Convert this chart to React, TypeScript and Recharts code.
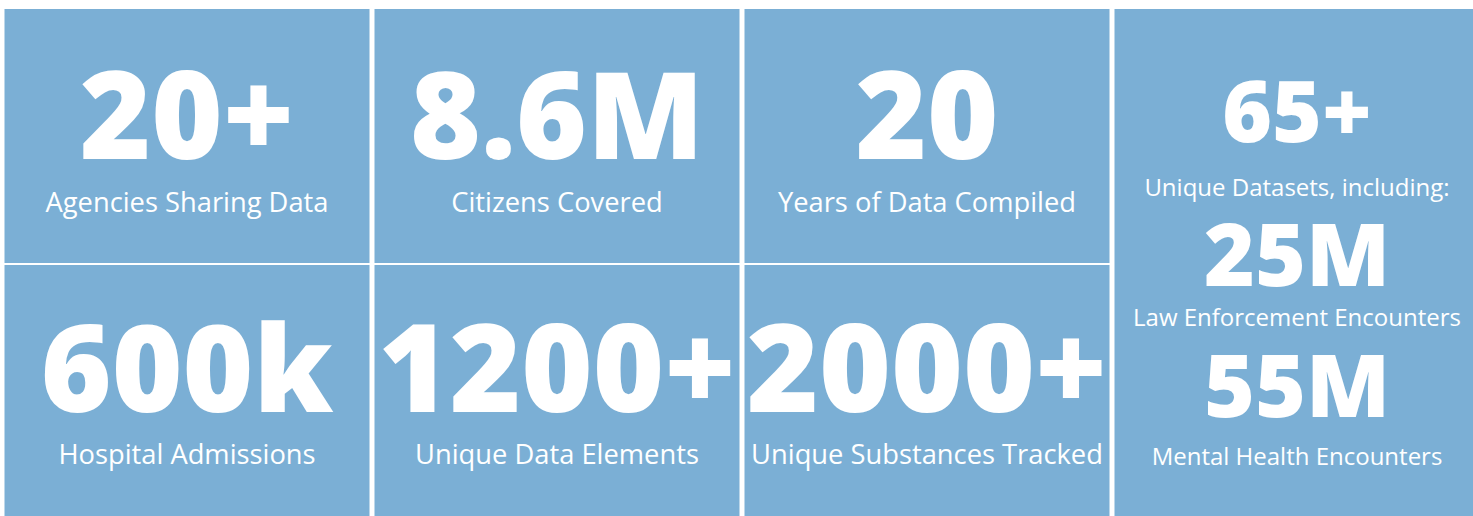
import React from 'react';
import { BarChart, Bar, XAxis, YAxis } from 'recharts';

// one entry per tile column
const columns = ['Agencies', 'Citizens', 'Years', 'Datasets'];
const upperShare = [1, 1, 1, 0];
const lowerShare = [1, 1, 1, 0];
const fullShare = [0, 0, 0, 2];

const upperFigures = ['20+', '8.6M', '20', ''];
const upperCaptions = ['Agencies Sharing Data', 'Citizens Covered', 'Years of Data Compiled', ''];
const lowerFigures = ['600k', '1200+', '2000+', ''];
const lowerCaptions = ['Hospital Admissions', 'Unique Data Elements', 'Unique Substances Tracked', ''];
const sideFigures = ['65+', '25M', '55M'];
const sideCaptions = ['Unique Datasets, including:', 'Law Enforcement Encounters', 'Mental Health Encounters'];

const chartData = columns.map((col, i) => ({
  col,
  lower: lowerShare[i],
  upper: upperShare[i],
  full: fullShare[i],
}));

const TILE = '#7bafd5';
const FONT = '"Open Sans", "Noto Sans", sans-serif';

const figureStyle = (size: number) => ({
  fill: '#ffffff',
  fontFamily: FONT,
  fontWeight: 800,
  fontSize: size,
});
const captionStyle = (size: number) => ({
  fill: '#ffffff',
  fontFamily: FONT,
  fontWeight: 400,
  fontSize: size,
});

const makeTile = (figures: string[], captions: string[], figSize: number[], figY: number, capY: number) =>
  (props: any) => {
    const { x, y, width, height, index } = props;
    if (!height || height <= 0) return null;
    const cx = x + width / 2;
    return (
      <g>
        <rect x={x} y={y + 1} width={width} height={height - 2} fill={TILE} />
        <text x={cx} y={y + figY} textAnchor="middle" style={figureStyle(figSize[index])}>
          {figures[index]}
        </text>
        <text x={cx} y={y + capY} textAnchor="middle" style={captionStyle(27.3)}>
          {captions[index]}
        </text>
      </g>
    );
  };

const UpperTile = makeTile(upperFigures, upperCaptions, [122, 121, 122, 0], 151, 204);
const LowerTile = makeTile(lowerFigures, lowerCaptions, [121, 122, 123, 0], 148, 200);

const SideTile = (props: any) => {
  const { x, y, width, height } = props;
  if (!height || height <= 0) return null;
  const cx = x + width / 2;
  const figY = [134, 278, 409];
  const capY = [188, 318, 457];
  const figSize = [85, 87, 87];
  const capSize = [24, 24, 24];
  return (
    <g>
      <rect x={x} y={y + 1} width={width} height={height - 2} fill={TILE} />
      {sideFigures.map((f, i) => (
        <text key={'f' + i} x={cx} y={y + figY[i]} textAnchor="middle" style={figureStyle(figSize[i])}>
          {f}
        </text>
      ))}
      {sideCaptions.map((c, i) => (
        <text key={'c' + i} x={cx} y={y + capY[i]} textAnchor="middle" style={captionStyle(capSize[i])}>
          {c}
        </text>
      ))}
    </g>
  );
};

export default function App() {
  return (
    <div style={{ width: 1473, height: 516, overflow: 'hidden', background: '#ffffff' }}>
      <style>{`body{margin:0}`}</style>
      <div style={{ marginLeft: 2 }}>
        <BarChart
          width={1480}
          height={520}
          data={chartData}
          margin={{ top: 8, right: 0, left: 0, bottom: 0 }}
          barCategoryGap={2.5}
        >
          <XAxis dataKey="col" hide />
          <YAxis hide domain={[0, 2]} />
          <Bar dataKey="lower" stackId="t" shape={LowerTile} isAnimationActive={false} />
          <Bar dataKey="upper" stackId="t" shape={UpperTile} isAnimationActive={false} />
          <Bar dataKey="full" stackId="t" shape={SideTile} isAnimationActive={false} />
        </BarChart>
      </div>
    </div>
  );
}
